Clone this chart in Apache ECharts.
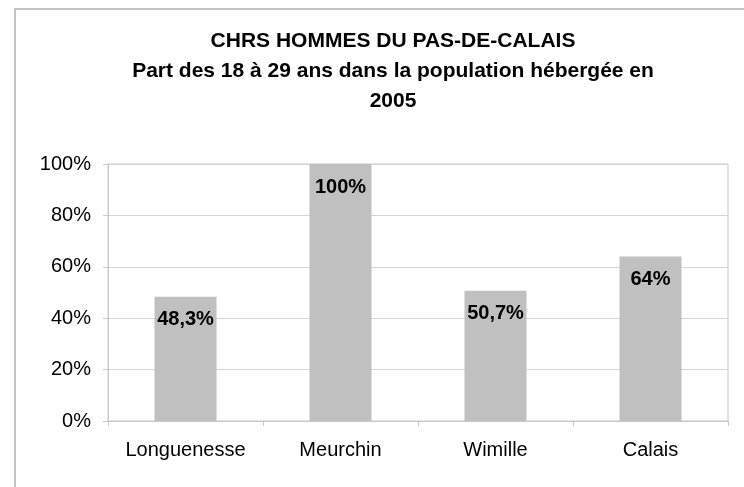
<!DOCTYPE html>
<html>
<head>
<meta charset="utf-8">
<script src="https://cdn.jsdelivr.net/npm/echarts@6/dist/echarts.min.js"></script>
<style>
  html, body { margin: 0; padding: 0; background: #fff; }
  #main { width: 744px; height: 487px; }
</style>
</head>
<body>
<div id="main"></div>
<script>
var categories = ['Longuenesse', 'Meurchin', 'Wimille', 'Calais'];
var values = [48.3, 100, 50.7, 64];
var valueLabels = ['48,3%', '100%', '50,7%', '64%'];
var yTicks = [0, 20, 40, 60, 80, 100];

var myChart = echarts.init(document.getElementById('main'));
var option = {
    backgroundColor: '#fff',
    animation: false,
    textStyle: { fontFamily: 'Liberation Sans, Arial, sans-serif' },
    title: {
        text: 'CHRS HOMMES DU PAS-DE-CALAIS\nPart des 18 à 29 ans dans la population hébergée en\n2005',
        left: 388,
        top: 21,
        textAlign: 'center',
        textStyle: {
            fontSize: 21,
            fontWeight: 'bold',
            color: '#000',
            lineHeight: 30
        }
    },
    graphic: [{
        type: 'rect',
        shape: { x: 15, y: 9, width: 900, height: 700 },
        style: { fill: 'none', stroke: '#c4c4c4', lineWidth: 2 },
        silent: true
    }],
    grid: {
        left: 108,
        right: 16,
        top: 164,
        bottom: 66,
        show: true,
        borderColor: '#c8c8c8',
        borderWidth: 1,
        containLabel: false
    },
    xAxis: {
        type: 'category',
        data: categories,
        axisLine: { lineStyle: { color: '#c8c8c8', width: 1 } },
        axisTick: { show: true, interval: 0, length: 5, lineStyle: { color: '#c8c8c8' } },
        axisLabel: { color: '#000', fontSize: 20, margin: 19, interval: 0, hideOverlap: false }
    },
    yAxis: {
        type: 'value',
        min: yTicks[0],
        max: yTicks[yTicks.length - 1],
        interval: 20,
        axisLine: { show: true, lineStyle: { color: '#c8c8c8', width: 1 } },
        axisTick: { show: true, length: 5, lineStyle: { color: '#c8c8c8' } },
        axisLabel: { color: '#000', fontSize: 20, margin: 17, formatter: '{value}%' },
        splitLine: { lineStyle: { color: '#d4d4d4', width: 1 } }
    },
    series: [{
        type: 'bar',
        data: values,
        barWidth: '40%',
        itemStyle: { color: '#c0c0c0' },
        label: {
            show: true,
            position: 'insideTop',
            distance: 13,
            color: '#000',
            fontSize: 20,
            fontWeight: 'bold',
            formatter: function (p) { return valueLabels[p.dataIndex]; }
        }
    }]
};
myChart.setOption(option);
</script>
</body>
</html>
